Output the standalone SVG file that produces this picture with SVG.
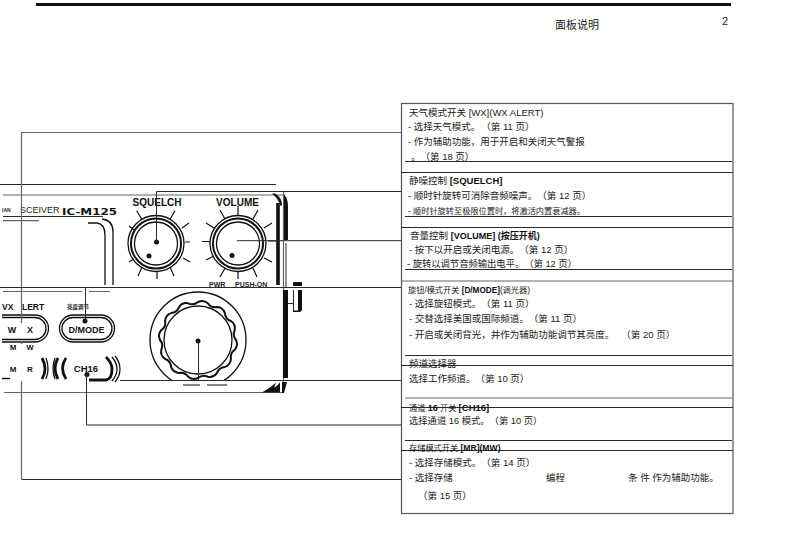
<svg xmlns="http://www.w3.org/2000/svg" width="793" height="550" viewBox="0 0 793 550">
<style>
text{font-family:"Liberation Sans","Noto Sans CJK SC",sans-serif;fill:#222;text-spacing-trim:space-all}
.t{font-size:9.500px}
.s{font-size:8.200px}
.b{font-weight:bold;font-size:9.500px;fill:#111}
.l{fill:none;stroke:#2a2a2a;stroke-width:1}
.g{fill:none;stroke:#666;stroke-width:1.200}
.k{fill:none;stroke:#111;stroke-width:1.300}
.kk{fill:none;stroke:#111;stroke-width:2.800}
.tick{stroke:#111;stroke-width:1.200}
.d{fill:#111}
</style>
<rect width="793" height="550" fill="#fff"/>
<path d="M36 4.500H731" stroke="#111" stroke-width="3"/>
<text x="577" y="29" text-anchor="middle" style="font-size:11px">面板说明</text>
<text x="722" y="25" style="font-size:11px">2</text>
<g id="device">
<path class="l" d="M0 184.500H276M3 216.500H103"/>
<path class="g" d="M3 195H283M3 220.700H39M3 291.500H82M89 291.500H110M4 392.500H283M283.500 191V392.500"/>
<text x="2" y="212" style="font-size:5px;font-weight:bold">IAN</text>
<text x="20" y="213" style="font-size:9px">SCEIVER</text>
<text x="62" y="214.500" textLength="55" lengthAdjust="spacingAndGlyphs" style="font-size:9.500px;font-weight:bold;font-family:'DejaVu Sans',sans-serif;fill:#111">IC-M125</text>
<path class="k" d="M88 223H97q8 1 8 12V285M102 219q11 1 11 13V285"/>
<path class="d" d="M272 193.500h3q7 4 7 12h-2q-1-6-8-12z"/>
<path class="kk" d="M278 203V285" style="stroke-width:3.600"/>
<path class="d" d="M284 194q4 5 4 12V240h-4zM283 290h5V378h-5zM262 392.500l8-5 6-5-2 5-4 2 6-3 4-4v10zM282 382h5l-3 11h-2z"/>
<path class="l" d="M286 243V287"/>
<path class="d" d="M293 286v-3q0-1 1-1h7q1 0 1 1v3zM298 290h4V309q0 3-3 3h-6v-1.500h5z"/>
<path class="l" d="M293.500 290V311M288 303.500H293"/>
</g>
<g id="squelch">
<text x="157" y="205.500" text-anchor="middle" class="b" style="font-size:10px">SQUELCH</text>
<circle cx="156" cy="243.500" r="28" class="k"/><circle cx="156" cy="243.500" r="25" class="kk" style="stroke-width:2"/><circle cx="156" cy="243.500" r="21.500" class="k"/>
<circle cx="149" cy="256" r="2.500" class="d"/><circle cx="156.500" cy="242" r="2.500" class="d"/>
<path class="tick" d="M136.700 210.700l5 8.600M175 210.700l-5 8.600M189 223l-7 5M190 242h-5M190 262l-7-4M174 276l-4-9M157 279v-8M138 276l4-9M129 262l5-3M129 226l5 4"/>
</g>
<g id="volume">
<text x="237.500" y="205.500" text-anchor="middle" class="b" style="font-size:10px">VOLUME</text>
<circle cx="238" cy="243.500" r="28" class="k"/><circle cx="238" cy="243.500" r="25" class="kk" style="stroke-width:2"/><circle cx="238" cy="243.500" r="21.500" class="k"/>
<circle cx="232" cy="255.500" r="2.500" class="d"/>
<path class="tick" d="M220 210l5 9M238 206v9M258 210l-5 9M272 223l-8 5M276 241h-8M272 262l-8-4M257 277l-4-9M238 279v-8M220 277l5-9M206 260l8-4M202 241.500h8M206 223l8 5"/>
<text x="209" y="287" style="font-size:7px;font-weight:bold">PWR</text>
<text x="235" y="287" style="font-size:7px;font-weight:bold">PUSH-ON</text>
</g>
<g id="wx">
<text x="2" y="310" class="b" style="font-size:8.500px">VX</text>
<text x="22" y="310" class="b" style="font-size:8.500px">LERT</text>
<path class="k" d="M2 315H35a13.500 13.500 0 0 1 0 27H2M2 317.500H35a11 11 0 0 1 0 22H2"/>
<text x="12" y="332.500" class="b" style="font-size:9px;text-anchor:middle">W</text><text x="30" y="332.500" class="b" style="font-size:9px;text-anchor:middle">X</text>
<text x="13" y="350" class="b" style="font-size:7.500px;text-anchor:middle">M</text><text x="30" y="350" class="b" style="font-size:7.500px;text-anchor:middle">W</text>
</g>
<g id="dmode">
<text x="67" y="309" style="font-size:5.500px;font-weight:bold">亮度调节</text>
<rect x="59.500" y="315" width="55" height="27" rx="13.500" class="k"/><rect x="62" y="317.500" width="50" height="22" rx="11" class="k"/>
<text x="86.500" y="333" text-anchor="middle" class="b" style="font-size:9px">D/MODE</text>
<circle cx="85" cy="321" r="2.500" class="d"/>
</g>
<g id="mr">
<text x="13" y="371.500" class="b" style="font-size:8px;text-anchor:middle">M</text><text x="30" y="371.500" class="b" style="font-size:8px;text-anchor:middle">R</text>
<path class="kk" d="M42 358q6 11 0 21"/><path class="k" d="M46 358q4 11 0 21M2 378.500H10"/>
</g>
<g id="ch16">
<path class="kk" d="M58 358q-6 10 0 21M66 358q-7 10 0 21"/>
<path class="k" d="M55 358q-4 10 0 21"/>
<text x="86" y="372" text-anchor="middle" class="b" style="font-size:9.500px">CH16</text>
<path class="kk" d="M89 380H106q6-1 6-11q0-6-6-12"/>
<path class="k" d="M112 357q5 6 5 12q0 6-5 12M115 356q5 6 5 13q0 7-5 13"/>
<circle cx="87" cy="374.500" r="2.500" class="d"/>
</g>
<g id="channel-dial">
<circle cx="198" cy="340" r="48" class="k"/>
<circle cx="198" cy="340" r="34" class="k"/>
<path style="fill:none;stroke:#111;stroke-width:2" d="M236 340A9 9 0 0 1 234.700 349.800A9 9 0 0 0 230.900 359A9 9 0 0 1 224.900 366.900A9 9 0 0 0 217 372.900A9 9 0 0 1 207.800 376.700A9 9 0 0 0 198 378A9 9 0 0 1 188.200 376.700A9 9 0 0 0 179 372.900A9 9 0 0 1 171.100 366.900A9 9 0 0 0 165.100 359A9 9 0 0 1 161.300 349.800A9 9 0 0 0 160 340A9 9 0 0 1 161.300 330.200A9 9 0 0 0 165.100 321A9 9 0 0 1 171.100 313.100A9 9 0 0 0 179 307.100A9 9 0 0 1 188.200 303.300A9 9 0 0 0 198 302A9 9 0 0 1 207.800 303.300A9 9 0 0 0 217 307.100A9 9 0 0 1 224.900 313.100A9 9 0 0 0 230.900 321A9 9 0 0 1 234.700 330.200A9 9 0 0 0 236 340z"/>
<rect x="150" y="381" width="96" height="8" fill="#fff"/>
<circle cx="198" cy="341" r="2.500" class="d"/>
<path class="tick" d="M183 385h17M207 385h20"/>
</g>
<g id="connectors">
<path class="g" d="M21.500 132.500H401M21.500 132V323M21.500 341V344M21.500 381V479"/>
<path class="l" d="M21.500 479.500H401"/>
<path class="l" d="M156.500 242V191.500H401"/>
<path class="l" d="M237 240.700H401"/>
<path class="l" d="M0 287.500H401M85.500 288V321"/>
<path class="l" d="M198.500 341V380M120 380.500H401"/>
<path class="l" d="M86.500 374V425H401"/>
</g>
<g id="panel">
<rect x="401.500" y="103.500" width="331.500" height="410" fill="none" stroke="#555" stroke-width="1.200"/>
<path class="l" d="M405 161.500H732M401 172.500H733M405 216.500H732M401 227.500H733M405 269.500H732M405 355.500H732M401 365.500H733M401 407.500H733M405 440.500H732M401 450.500H733"/>
<path class="g" d="M401 281H733M405 398H732"/>
<text x="409" y="116" class="t">天气模式开关 [WX](WX ALERT)</text>
<text x="408" y="130" class="t">- 选择天气模式。<tspan dx="1">（第 11 页）</tspan></text>
<text x="408" y="145" class="t">- 作为辅助功能，用于开启和关闭天气警报</text>
<text x="411" y="160" class="t">。（第 18 页）</text>
<text x="409" y="184" class="t">静噪控制 <tspan class="b">[SQUELCH]</tspan></text>
<text x="408" y="199" class="t">- 顺时针旋转可消除音频噪声。（第 12 页）</text>
<text x="408" y="214" class="s">- 顺时针旋转至极限位置时，将激活内置衰减器。</text>
<text x="410" y="238.500" class="t">音量控制 <tspan class="b" style="font-size:9px">[VOLUME] (按压开机)</tspan></text>
<text x="409" y="253" class="t">- 按下以开启或关闭电源。（第 12 页）</text>
<text x="407" y="267" class="t" style="font-size:9.300px">- 旋转以调节音频输出电平。（第 12 页）</text>
<text x="408" y="293" class="s">旋钮/模式开关 <tspan class="b s" style="font-size:8.200px">[D/MODE]</tspan>(调光器)</text>
<text x="409" y="307" class="t">- 选择旋钮模式。（第 11 页）</text>
<text x="409" y="322" class="t">- 交替选择美国或国际频道。（第 11 页）</text>
<text x="409" y="338" class="t">- 开启或关闭背光，并作为辅助功能调节其亮度。<tspan dx="7">（第 20 页）</tspan></text>
<text x="409" y="367" class="t">频道选择器</text>
<text x="409" y="382" class="t">选择工作频道。（第 10 页）</text>
<text x="409" y="411" class="s">通道 <tspan class="b" style="font-size:9px">16</tspan> 开关 <tspan class="b">[CH16]</tspan></text>
<text x="409" y="424" class="t" style="font-size:9.300px">选择通道 16 模式。（第 10 页）</text>
<text x="409" y="451" class="s">存储模式开关 <tspan class="b" style="font-size:8.600px">[MR](MW)</tspan></text>
<text x="409" y="466" class="t">- 选择存储模式。（第 14 页）</text>
<text x="409" y="481" class="t">- 选择存储</text>
<text x="546" y="481" class="t">编程</text>
<text x="628" y="481" class="t">条 件 作为辅助功能。</text>
<text x="418" y="499" class="t">（第 15 页）</text>
</g>
</svg>
